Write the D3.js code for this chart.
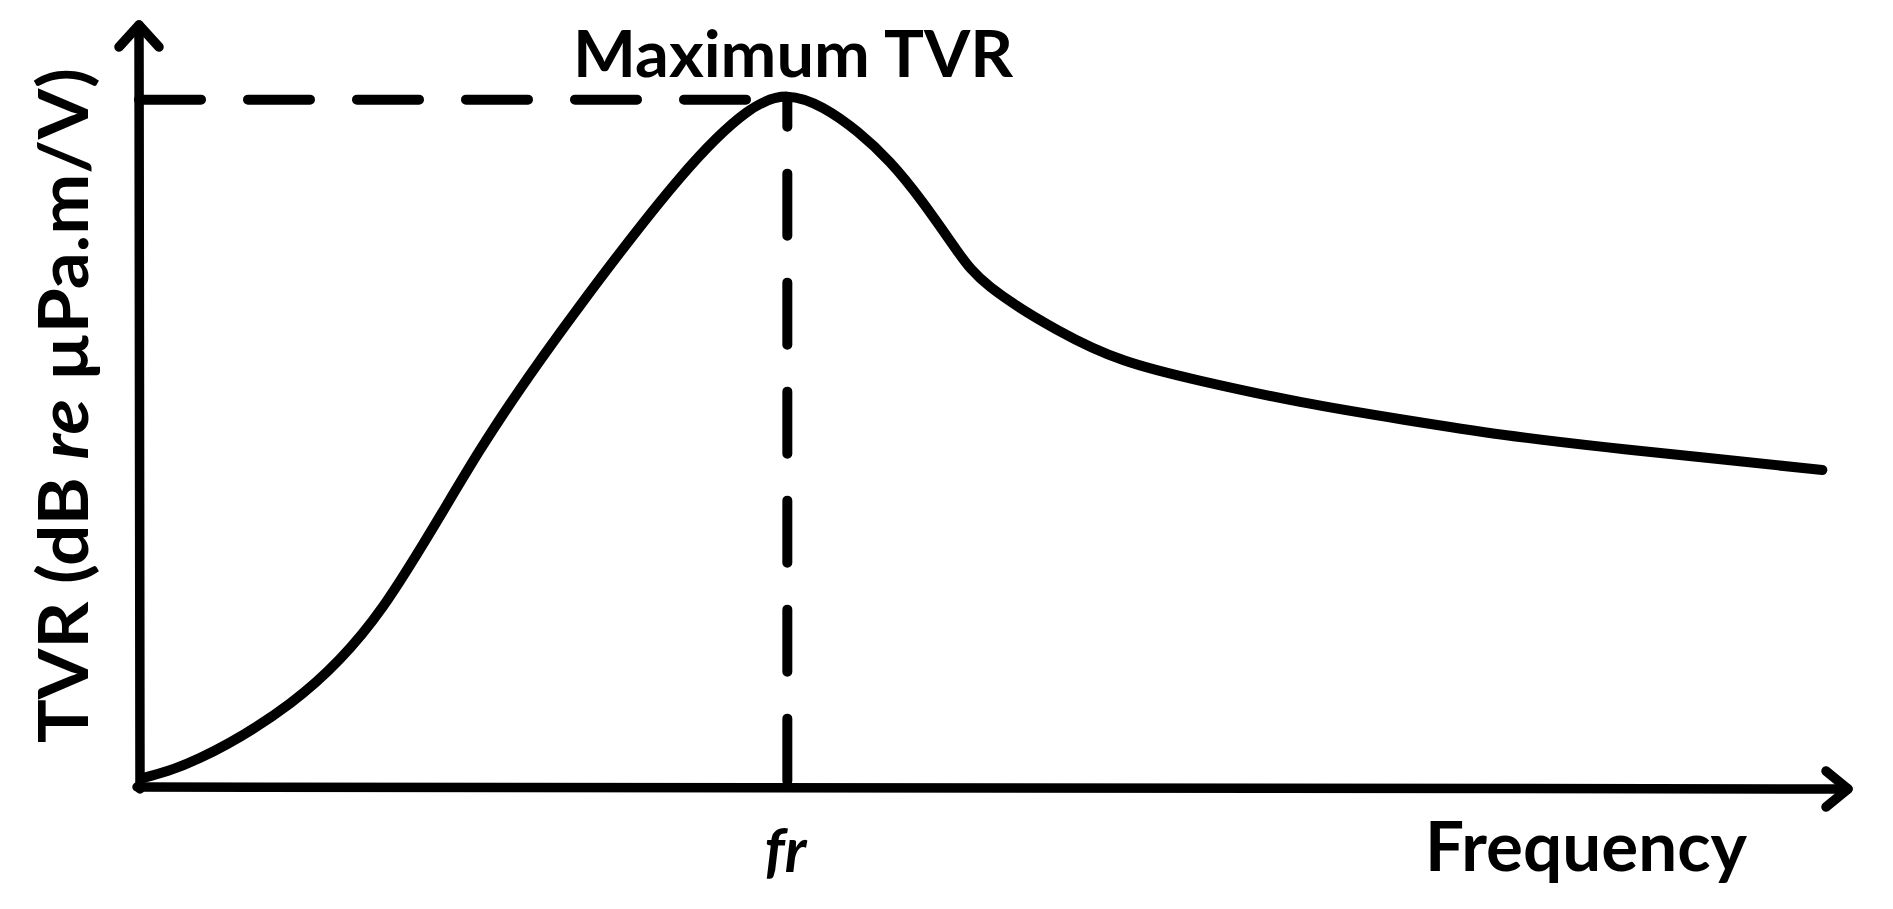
<!DOCTYPE html>
<html>
<head>
<meta charset="utf-8">
<script src="https://cdn.jsdelivr.net/npm/d3@7"></script>
<style>
  body { margin: 0; background: #fff; }
  text { font-family: Lato, "Open Sans", sans-serif; fill: #000; }
</style>
</head>
<body>
<div id="chart"></div>
<script>
// frequency (arbitrary units, 0..100 along the x axis)
const freq = [0.2, 3.5, 8.8, 14.2, 19.9, 25.8, 31.6, 35.5, 37.9,
              40.0, 42.0, 43.9, 45.8, 47.8, 49.8, 53.7, 57.6, 62.1,
              68.0, 74.0, 79.9, 85.8, 91.7, 98.5];
// TVR (arbitrary units, 0..100 along the y axis)
const tvr = [1.2, 3.8, 11.0, 23.6, 44.2, 63.3, 79.9, 88.5, 90.6,
             89.1, 86.0, 82.0, 76.8, 70.5, 65.6, 60.0, 56.0, 53.3,
             50.5, 48.2, 46.2, 44.6, 43.2, 41.6];

const yLabel = ["TVR (dB ", "re", " \u00B5Pa.m/V)"];
const xLabel = "Frequency";
const peakLabel = "Maximum TVR";
const frLabel = "fr";

const svgWidth = 1893;
const svgHeight = 909;

const svg = d3.select("#chart").append("svg")
    .attr("width", svgWidth)
    .attr("height", svgHeight);

// scales
const x = d3.scaleLinear().domain([0, 100]).range([140, 1848]);
const y = d3.scaleLinear().domain([0, 100]).range([787, 25]);

const data = freq.map((f, i) => ({ f: f, v: tvr[i] }));

// peak of the curve
const peak = data.reduce((a, b) => (b.v > a.v ? b : a));

// axes (no ticks, just arrows)
const axisG = svg.append("g")
    .attr("fill", "none")
    .attr("stroke", "black")
    .attr("stroke-width", 9.5)
    .attr("stroke-linecap", "round")
    .attr("stroke-linejoin", "round");

axisG.append("path")
    .attr("d", `M${x(0)},${y(0) + 2} L${x(0) - 1},${y(100)}`);
axisG.append("path")
    .attr("d", `M${x(0) - 1},${y(100)} m-20,22 l20,-22 l20,22`);

axisG.append("path")
    .attr("d", `M${x(0) - 3},${y(0)} L${x(100)},${y(0) + 2}`);
axisG.append("path")
    .attr("d", `M${x(100)},${y(0) + 2} m-22,-18 l22,18 l-22,18`);

// dashed guide lines to the peak
svg.append("line")
    .attr("x1", x(0) - 1)
    .attr("y1", y(peak.v) + 3)
    .attr("x2", x(peak.f))
    .attr("y2", y(peak.v) + 3)
    .attr("stroke", "black")
    .attr("stroke-width", 10)
    .attr("stroke-linecap", "round")
    .attr("stroke-dasharray", "62,47");

svg.append("line")
    .attr("x1", x(peak.f))
    .attr("y1", y(peak.v) + 3)
    .attr("x2", x(peak.f))
    .attr("y2", y(0))
    .attr("stroke", "black")
    .attr("stroke-width", 10)
    .attr("stroke-linecap", "round")
    .attr("stroke-dasharray", "62,47")
    .attr("stroke-dashoffset", 35);

// TVR curve
const line = d3.line()
    .x(d => x(d.f))
    .y(d => y(d.v))
    .curve(d3.curveNatural);

svg.append("path")
    .datum(data)
    .attr("d", line)
    .attr("fill", "none")
    .attr("stroke", "black")
    .attr("stroke-width", 10)
    .attr("stroke-linecap", "round");

// labels
svg.append("text")
    .attr("x", 573)
    .attr("y", 77)
    .attr("font-size", 65)
    .attr("font-weight", "bold")
    .attr("textLength", 440)
    .attr("lengthAdjust", "spacingAndGlyphs")
    .text(peakLabel);

svg.append("text")
    .attr("x", 1425)
    .attr("y", 871)
    .attr("font-size", 69)
    .attr("font-weight", "bold")
    .attr("textLength", 322)
    .attr("lengthAdjust", "spacingAndGlyphs")
    .text(xLabel);

svg.append("text")
    .attr("x", x(peak.f) - 2)
    .attr("y", 872)
    .attr("text-anchor", "middle")
    .attr("font-size", 61)
    .attr("font-weight", "bold")
    .attr("font-style", "italic")
    .text(frLabel);

const yt = svg.append("text")
    .attr("transform", "translate(88,743) rotate(-90)")
    .attr("font-size", 69)
    .attr("font-weight", "bold")
    .attr("textLength", 675)
    .attr("lengthAdjust", "spacingAndGlyphs");
yt.append("tspan").text(yLabel[0]);
yt.append("tspan").attr("font-style", "italic").text(yLabel[1]);
yt.append("tspan").text(yLabel[2]);
</script>
</body>
</html>
